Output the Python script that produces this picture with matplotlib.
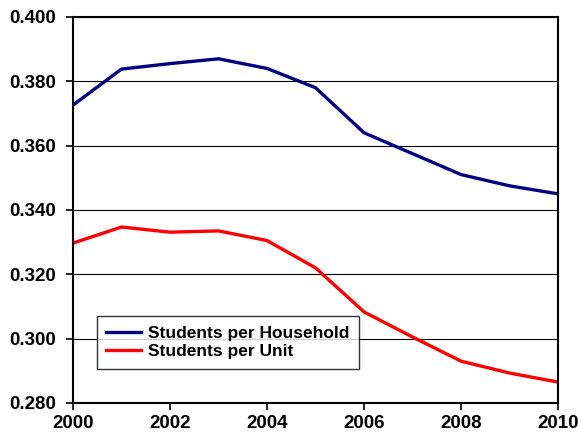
import matplotlib.pyplot as plt

years = [2000, 2001, 2002, 2003, 2004, 2005, 2006, 2007, 2008, 2009, 2010]
per_household = [0.3726, 0.3838, 0.3855, 0.3870, 0.3840, 0.3780, 0.3640, 0.3575, 0.3510, 0.3475, 0.3450]
per_unit = [0.3297, 0.3347, 0.3331, 0.3335, 0.3305, 0.3220, 0.3083, 0.3005, 0.2930, 0.2893, 0.2865]
y_ticks = [0.280, 0.300, 0.320, 0.340, 0.360, 0.380, 0.400]
x_ticks = [2000, 2002, 2004, 2006, 2008, 2010]

plt.rcParams['font.family'] = ['Liberation Sans', 'DejaVu Sans']

fig = plt.figure(figsize=(5.79, 4.41), dpi=100)
ax = fig.add_axes([0.126, 0.0862, 0.838, 0.8753])

ax.plot(years, per_household, color='#000080', lw=2.4, label='Students per Household')
ax.plot(years, per_unit, color='#ff0000', lw=2.4, label='Students per Unit')

ax.set_xlim(2000, 2010)
ax.set_ylim(0.280, 0.400)
ax.set_xticks(x_ticks)
ax.set_yticks(y_ticks)
ax.set_yticklabels(['%.3f' % v for v in y_ticks])
ax.yaxis.grid(True, color='black', lw=0.8)
ax.set_axisbelow(True)
ax.tick_params(direction='out', length=5, width=1.2, labelsize=13.5)
ax.tick_params(axis='y', pad=7)
ax.tick_params(axis='x', pad=4)
for lbl in ax.get_xticklabels() + ax.get_yticklabels():
    lbl.set_fontweight('bold')
for s in ax.spines.values():
    s.set_color('black')
    s.set_linewidth(1.5)

leg = ax.legend(loc='lower left', bbox_to_anchor=(0.049, 0.088), frameon=True, fancybox=False,
                edgecolor='black', prop={'weight': 'bold', 'size': 12.5}, handlelength=2.0,
                borderpad=0.55, labelspacing=0.2, handletextpad=0.4, borderaxespad=0)
leg.get_frame().set_linewidth(1.0)

fig.savefig('out.png', dpi=100)
